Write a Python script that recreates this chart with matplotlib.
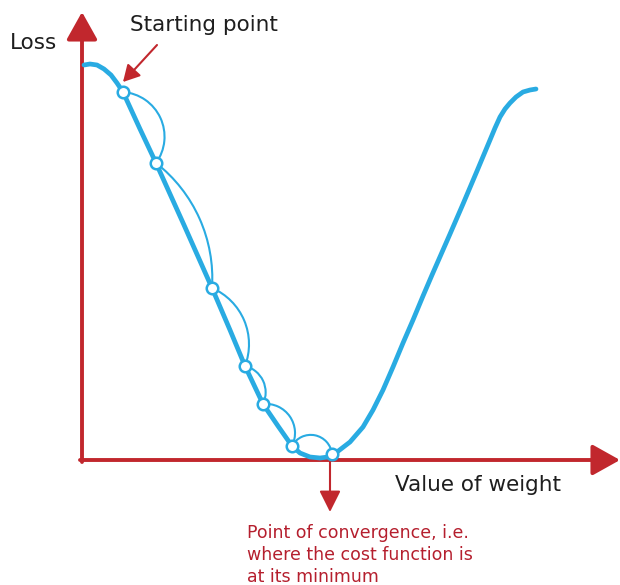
import numpy as np
import matplotlib
matplotlib.use("Agg")
import matplotlib.pyplot as plt
from matplotlib.patches import Arc

# ---- data (weight / loss units, origin at the axes corner) ----
weight = [2, 8, 15, 22, 29, 35, 41, 58, 74, 102, 130, 148, 163, 181, 196, 210,
          218, 228, 238, 246, 255, 268, 281, 291, 301, 311, 321, 331, 341, 350,
          368, 381, 395, 408, 413, 418, 423, 428, 434, 441, 448, 454]
loss = [395, 396, 395, 391, 385, 377, 368, 331, 297, 235, 172, 130, 94, 56, 34, 14,
        7, 3, 2, 3, 8, 18, 33, 50, 70, 93, 117, 140, 164, 185,
        226, 256, 289, 320, 332, 343, 351, 357, 363, 368, 370, 371]

step_weight = [41, 74, 130, 163, 181, 210, 250]
step_loss = [368, 297, 172, 94, 56, 14, 6]
step_bulge = [23, 17, 17, 10, 15, 15]

x_label = "Value of weight"
y_label = "Loss"
start_label = "Starting point"
conv_label = "Point of convergence, i.e.\nwhere the cost function is\nat its minimum"

RED = "#c1272d"
BLUE = "#29abe2"
TEXT = "#1e1e1e"
CONV = "#b51f2e"

fig = plt.figure(figsize=(6.2, 5.85), dpi=100)
ax = fig.add_axes([0, 0, 1, 1])
ax.set_xlim(-82, 538)
ax.set_ylim(-125, 460)
ax.set_aspect("equal")
ax.axis("off")

# axes arrows
big = dict(arrowstyle="-|>,head_length=1.7,head_width=0.95", mutation_scale=10,
           lw=2.8, color=RED, shrinkA=0, shrinkB=0)
ax.annotate("", xy=(0, 448), xytext=(0, -2), arrowprops=big, zorder=1)
ax.annotate("", xy=(538, 0), xytext=(-2, 0), arrowprops=big, zorder=1)

# loss curve
ax.plot(weight, loss, color=BLUE, lw=3.4, solid_capstyle="round",
        solid_joinstyle="round", zorder=3)

# gradient-descent step arcs
for i in range(len(step_weight) - 1):
    p0 = np.array([step_weight[i], step_loss[i]], float)
    p1 = np.array([step_weight[i + 1], step_loss[i + 1]], float)
    d = p1 - p0
    L = np.hypot(*d)
    n = np.array([-d[1], d[0]]) / L
    a = L / 2
    s = step_bulge[i]
    R = (a * a + s * s) / (2 * s)
    c = (p0 + p1) / 2 + (s - R) * n
    phi = np.degrees(np.arctan2(n[1], n[0]))
    alpha = np.degrees(np.arcsin(min(a / R, 1.0)))
    ax.add_patch(Arc(c, 2 * R, 2 * R, theta1=phi - alpha, theta2=phi + alpha,
                     color=BLUE, lw=1.5, zorder=4))

ax.plot(step_weight, step_loss, "o", ms=8.3, mfc="white", mec=BLUE, mew=1.8, zorder=5)

# annotation arrows
small = dict(arrowstyle="-|>,head_length=1.0,head_width=0.55", mutation_scale=10,
             lw=1.5, color=RED, shrinkA=0, shrinkB=0)
ax.annotate("", xy=(41, 378), xytext=(75, 415), arrowprops=small, zorder=6)
small2 = dict(arrowstyle="-|>,head_length=1.3,head_width=0.65", mutation_scale=10,
              lw=1.5, color=RED, shrinkA=0, shrinkB=0)
ax.annotate("", xy=(248, -52), xytext=(248, 0), arrowprops=small2, zorder=0)

# texts
ax.text(-72, 417, y_label, fontsize=15.5, color=TEXT, ha="left", va="center")
ax.text(48, 435, start_label, fontsize=15.5, color=TEXT, ha="left", va="center")
ax.text(313, -25, x_label, fontsize=15.5, color=TEXT, ha="left", va="center")
ax.text(165, -95, conv_label, fontsize=12.5, color=CONV, ha="left", va="center",
        linespacing=1.25)

fig.savefig("out.png", dpi=100)
